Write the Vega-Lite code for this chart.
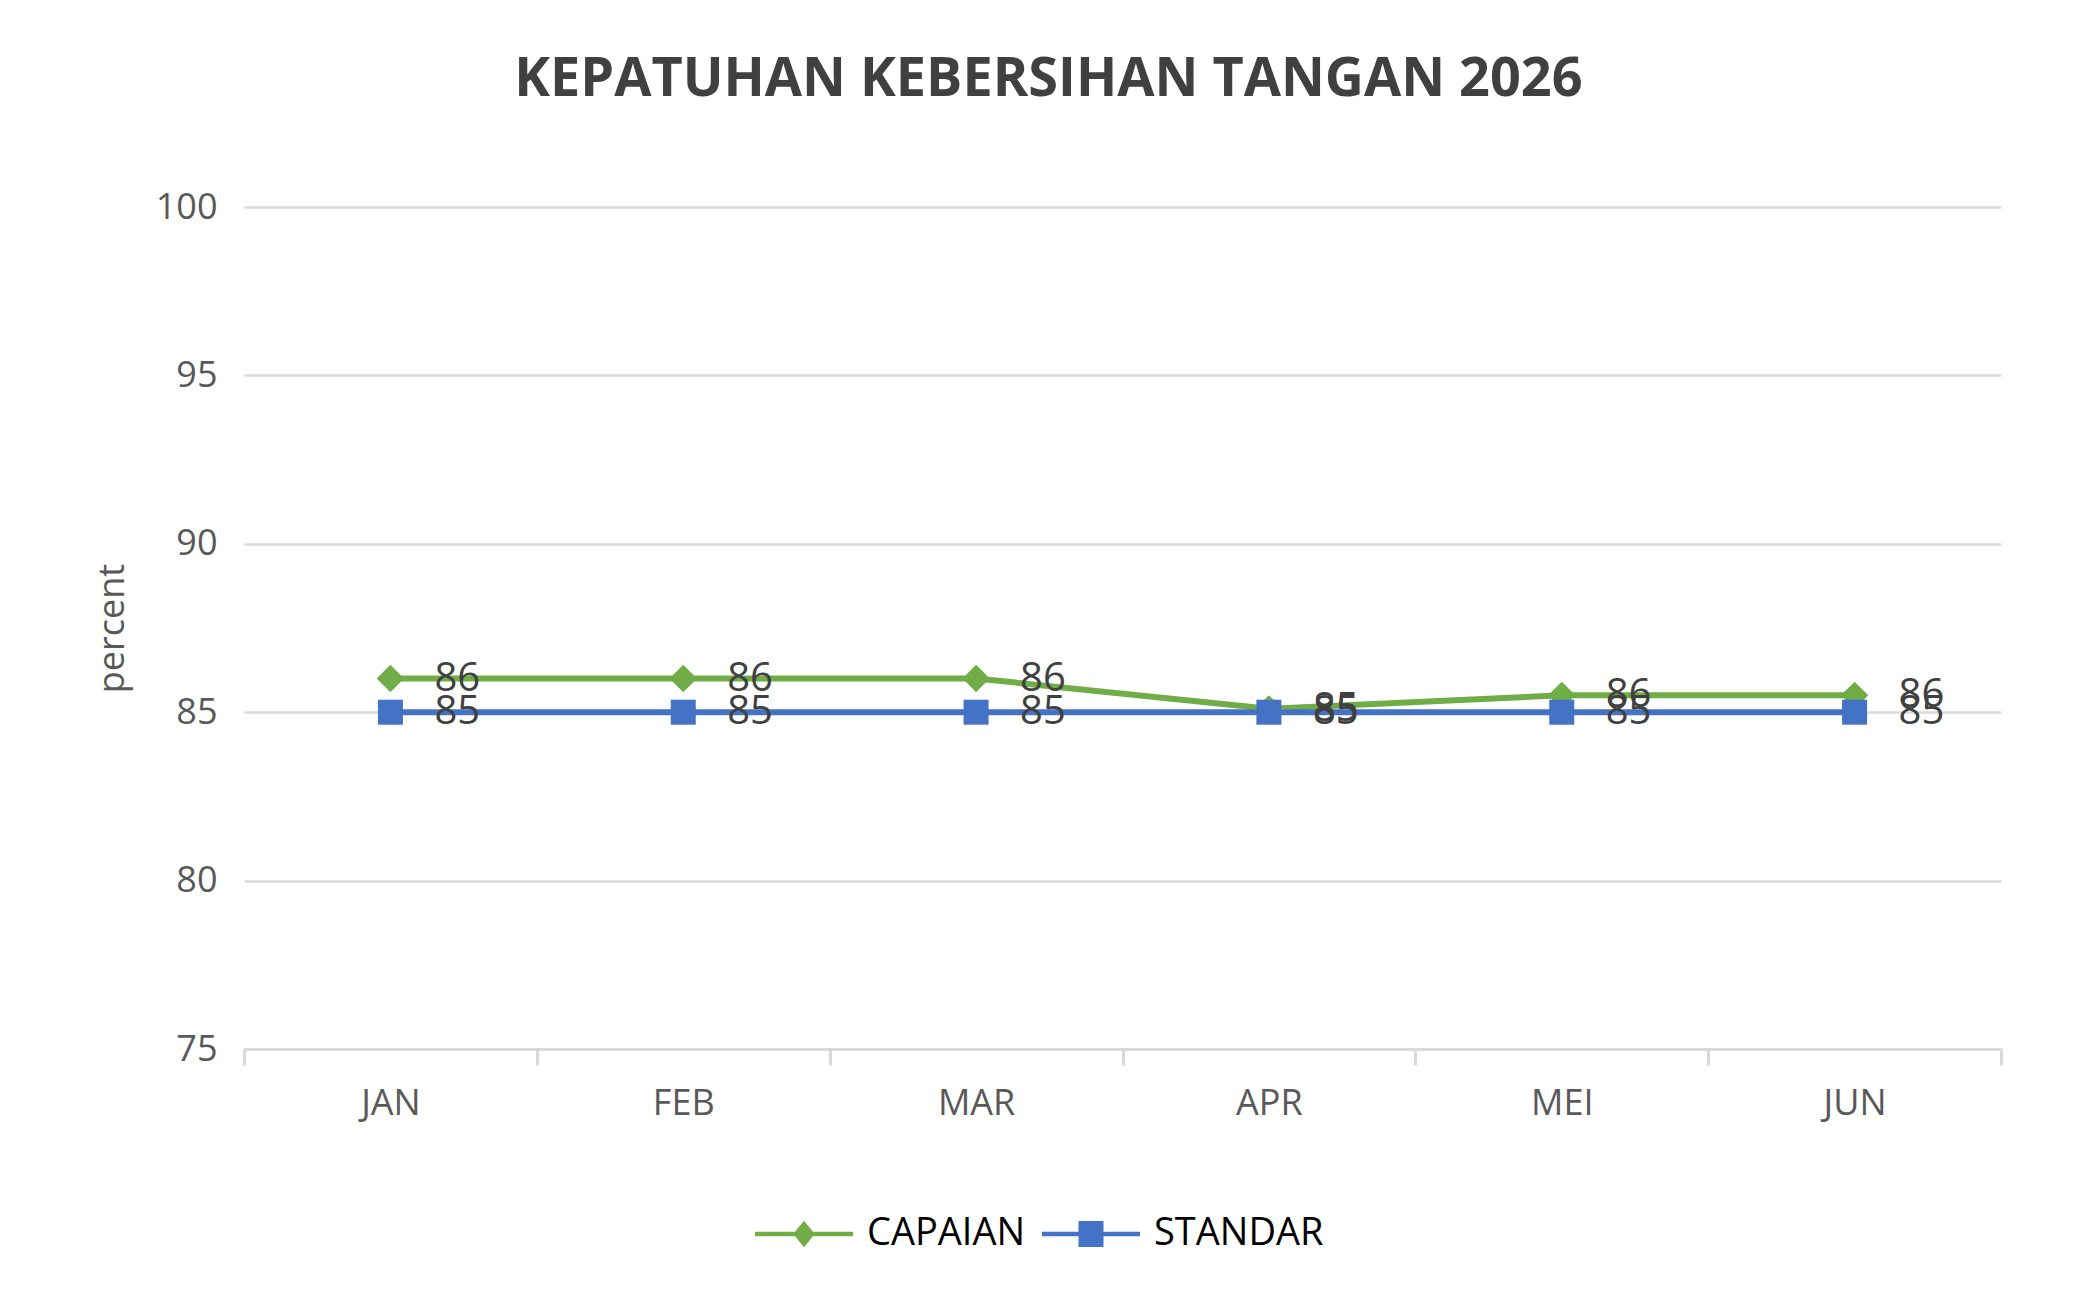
{
  "$schema": "https://vega.github.io/schema/vega-lite/v6.json",
  "autosize": {"type": "none"},
  "width": 1757,
  "height": 842,
  "padding": {"left": 244, "top": 207, "right": 93, "bottom": 258},
  "background": "white",
  "title": {
    "text": "KEPATUHAN KEBERSIHAN TANGAN 2026",
    "font": "Open Sans",
    "fontSize": 54,
    "fontWeight": "bold",
    "color": "#404040",
    "anchor": "middle",
    "frame": "bounds",
    "offset": 82
  },
  "data": {
    "values": [
      {"month": "JAN", "series": "CAPAIAN", "value": 86},
      {"month": "FEB", "series": "CAPAIAN", "value": 86},
      {"month": "MAR", "series": "CAPAIAN", "value": 86},
      {"month": "APR", "series": "CAPAIAN", "value": 85.1},
      {"month": "MEI", "series": "CAPAIAN", "value": 85.5},
      {"month": "JUN", "series": "CAPAIAN", "value": 85.5},
      {"month": "JAN", "series": "STANDAR", "value": 85},
      {"month": "FEB", "series": "STANDAR", "value": 85},
      {"month": "MAR", "series": "STANDAR", "value": 85},
      {"month": "APR", "series": "STANDAR", "value": 85},
      {"month": "MEI", "series": "STANDAR", "value": 85},
      {"month": "JUN", "series": "STANDAR", "value": 85}
    ]
  },
  "encoding": {
    "x": {
      "field": "month",
      "type": "nominal",
      "sort": ["JAN", "FEB", "MAR", "APR", "MEI", "JUN"],
      "bandPosition": 0.5,
      "scale": {"type": "band", "paddingInner": 0, "paddingOuter": 0},
      "axis": {
        "title": null,
        "labelAngle": 0,
        "tickBand": "extent",
        "ticks": true,
        "tickSize": 16,
        "tickWidth": 3,
        "tickColor": "#d9d9d9",
        "domainColor": "#d9d9d9",
        "domainWidth": 3,
        "grid": false,
        "labelFont": "Open Sans",
        "labelFontSize": 36,
        "labelColor": "#595959",
        "labelPadding": 21
      }
    },
    "y": {
      "field": "value",
      "type": "quantitative",
      "scale": {"domain": [75, 100], "zero": false, "nice": false},
      "axis": {
        "title": "percent",
        "titleFont": "Open Sans",
        "titleFontSize": 36,
        "titleFontWeight": "normal",
        "titleColor": "#595959",
        "titlePadding": 24,
        "values": [75, 80, 85, 90, 95, 100],
        "domain": false,
        "ticks": false,
        "grid": true,
        "gridColor": "#d9d9d9",
        "gridWidth": 2.5,
        "labelFont": "Open Sans",
        "labelFontSize": 36,
        "labelColor": "#595959",
        "labelPadding": 27
      }
    }
  },
  "layer": [
    {
      "mark": {"type": "line", "strokeWidth": 6},
      "encoding": {
        "color": {
          "field": "series",
          "type": "nominal",
          "scale": {"domain": ["CAPAIAN", "STANDAR"], "range": ["#70ad47", "#4472c4"]},
          "legend": {
            "title": null,
            "orient": "none",
            "legendX": 511,
            "legendY": 978,
            "direction": "horizontal",
            "padding": 0,
            "symbolSize": 9604,
            "symbolStrokeWidth": 0,
            "labelFont": "Open Sans",
            "labelFontSize": 38,
            "labelColor": "#000000",
            "labelLimit": 0,
            "labelOffset": 14,
            "columnPadding": 16,
            "encode": {
              "symbols": {
                "update": {
                  "shape": {"signal": "datum.value === 'CAPAIAN' ? 'M-1,-0.045L1,-0.045L1,0.045L-1,0.045Z M0,-0.27L0.22,0L0,0.27L-0.22,0Z' : 'M-1,-0.045L1,-0.045L1,0.045L-1,0.045Z M-0.255,-0.265L0.255,-0.265L0.255,0.265L-0.255,0.265Z'"},
                  "fill": {"signal": "datum.value === 'CAPAIAN' ? '#70ad47' : '#4472c4'"},
                  "fillOpacity": {"value": 1},
                  "opacity": {"value": 1},
                  "strokeWidth": {"value": 0}
                }
              }
            }
          }
        }
      }
    },
    {
      "transform": [{"filter": "datum.series === 'CAPAIAN'"}],
      "mark": {"type": "point", "filled": true, "opacity": 1, "shape": "diamond", "size": 750, "color": "#70ad47"}
    },
    {
      "transform": [{"filter": "datum.series === 'STANDAR'"}],
      "mark": {"type": "point", "filled": true, "opacity": 1, "shape": "square", "size": 625, "color": "#4472c4"}
    },
    {
      "mark": {"type": "text", "align": "left", "baseline": "middle", "dx": 44, "font": "Open Sans", "fontSize": 40, "color": "#404040"},
      "encoding": {
        "text": {"field": "value", "type": "quantitative", "format": ".0f"}
      }
    }
  ],
  "config": {
    "view": {"stroke": null}
  }
}
